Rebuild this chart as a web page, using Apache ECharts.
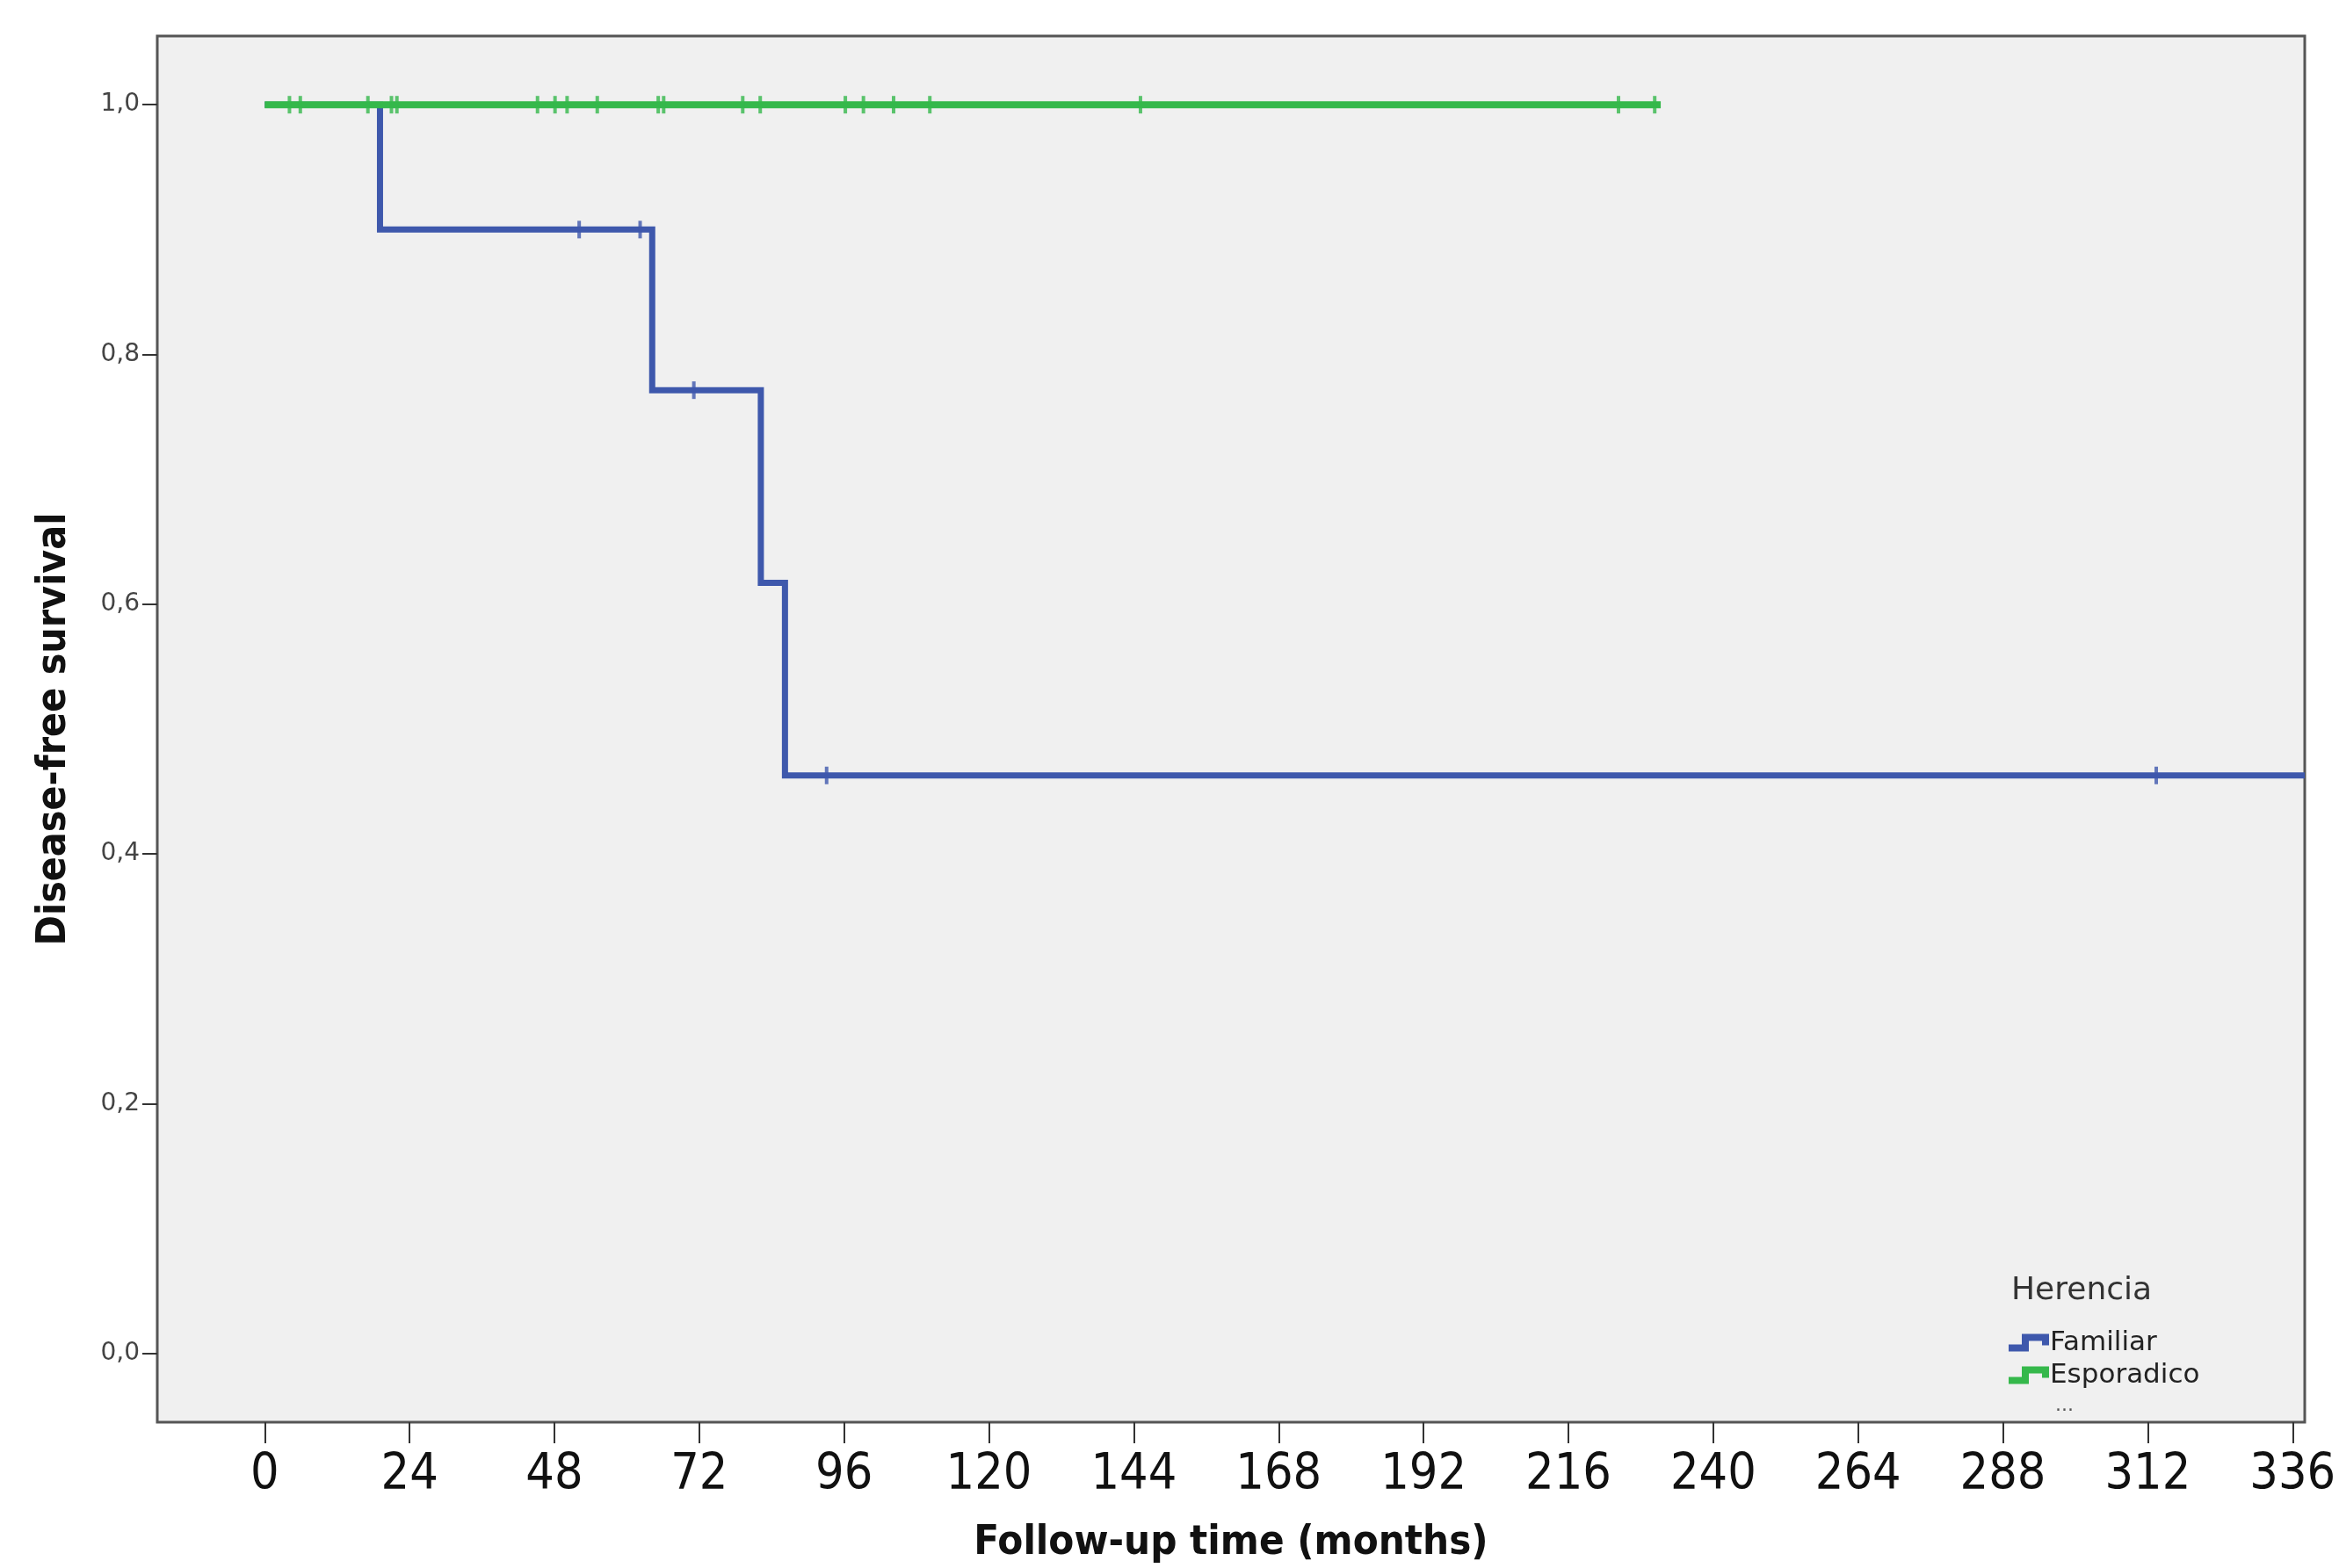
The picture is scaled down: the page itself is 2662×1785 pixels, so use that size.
<!DOCTYPE html>
<html>
<head>
<meta charset="utf-8">
<script src="https://cdn.jsdelivr.net/npm/echarts@6/dist/echarts.min.js"></script>
<style>
html,body{margin:0;padding:0;background:#fff;}
#chart{width:2662px;height:1785px;}
</style>
</head>
<body>
<div id="chart"></div>
<script>
// ---- data ----
const xTicks = [0, 24, 48, 72, 96, 120, 144, 168, 192, 216, 240, 264, 288, 312, 336];
const yTicks = [0, 0.2, 0.4, 0.6, 0.8, 1.0];
const yTickLabels = ['0,0', '0,2', '0,4', '0,6', '0,8', '1,0'];

// Familiar (Kaplan-Meier steps)
const familiarTimes = [0, 19.1, 64.2, 82.2, 86.2, 338];
const familiarSurv = [1, 0.9, 0.7714, 0.6171, 0.4629, 0.4629];
const familiarCensTimes = [52.1, 62.2, 71.1, 93.1, 313.4];
const familiarCensSurv = [0.9, 0.9, 0.7714, 0.4629, 0.4629];

// Esporadico
const esporadicoTimes = [0, 231.3];
const esporadicoSurv = [1, 1];
const esporadicoCensTimes = [4.1, 5.9, 17.1, 21.0, 21.9, 45.2, 48.1, 50.1, 55.1, 65.2, 66.1, 79.2, 82.1, 96.2, 99.2, 104.2, 110.2, 145.1, 224.3, 230.3];
const esporadicoCensSurv = esporadicoCensTimes.map(() => 1);

const seriesNames = ['Familiar', 'Esporadico'];
const legendTitle = 'Herencia';

// ---- chart ----
const BLUE = '#3e58ac';
const GREEN = '#35b84b';
const zip = (a, b) => a.map((v, i) => [v, b[i]]);
const stepIcon = 'path://M0,12 L15,12 L15,0 L46,0 L46,13 L38,13 L38,8 L23,8 L23,20 L0,20 Z';

const chart = echarts.init(document.getElementById('chart'));
chart.setOption({
  animation: false,
  backgroundColor: '#ffffff',
  grid: {
    left: 179, right: 39, top: 41, bottom: 162,
    show: true, backgroundColor: '#f0f0f0',
    borderColor: '#555555', borderWidth: 3
  },
  title: [
    { text: legendTitle, left: 2284, top: 1447,
      textStyle: { fontFamily: 'DejaVu Sans', fontSize: 36, fontWeight: 'normal', color: '#333' } },
    { text: '...', left: 2334, top: 1584,
      textStyle: { fontFamily: 'DejaVu Sans', fontSize: 22, fontWeight: 'normal', color: '#555' } }
  ],
  legend: {
    orient: 'vertical', left: 2281, top: 1508,
    itemWidth: 46, itemHeight: 20, itemGap: 6,
    data: [
      { name: seriesNames[0], icon: stepIcon },
      { name: seriesNames[1], icon: stepIcon }
    ],
    textStyle: { fontFamily: 'DejaVu Sans', fontSize: 31, color: '#222', padding: [0, 0, 0, -4] }
  },
  xAxis: {
    type: 'value', min: -17.8, max: 338,
    name: 'Follow-up time (months)', nameLocation: 'middle', nameGap: 114,
    nameTextStyle: { fontFamily: 'DejaVu Sans Condensed, DejaVu Sans', fontWeight: 'bold', fontSize: 47, color: '#111' },
    axisLine: { show: false, onZero: false },
    splitLine: { show: false },
    axisTick: { show: true, length: 24, lineStyle: { color: '#333', width: 2 }, customValues: xTicks },
    axisLabel: { margin: 33, fontFamily: 'DejaVu Sans Condensed, DejaVu Sans', fontSize: 57, color: '#111', customValues: xTicks }
  },
  yAxis: {
    type: 'value', min: -0.055, max: 1.055,
    name: 'Disease-free survival', nameLocation: 'middle', nameGap: 94, nameRotate: 90,
    nameTextStyle: { fontFamily: 'DejaVu Sans Condensed, DejaVu Sans', fontWeight: 'bold', fontSize: 46, color: '#111' },
    axisLine: { show: false, onZero: false },
    splitLine: { show: false },
    axisTick: { show: true, length: 17, lineStyle: { color: '#333', width: 2 }, customValues: yTicks },
    axisLabel: {
      margin: 20, fontFamily: 'DejaVu Sans', fontSize: 28, color: '#444', customValues: yTicks,
      formatter: v => { const i = yTicks.findIndex(t => Math.abs(t - v) < 1e-6); return i >= 0 ? yTickLabels[i] : ''; }
    }
  },
  series: [
    { name: seriesNames[0], type: 'line', step: 'end', z: 2, color: BLUE,
      data: zip(familiarTimes, familiarSurv), showSymbol: false, symbol: 'none',
      lineStyle: { color: BLUE, width: 7, join: 'miter', cap: 'butt' }, clip: true },
    { name: 'Familiar censored', type: 'scatter', z: 3, symbol: 'rect', symbolSize: [4, 20],
      itemStyle: { color: BLUE }, data: zip(familiarCensTimes, familiarCensSurv) },
    { name: seriesNames[1], type: 'line', step: 'end', z: 4, color: GREEN,
      data: zip(esporadicoTimes, esporadicoSurv), showSymbol: false, symbol: 'none',
      lineStyle: { color: GREEN, width: 8, join: 'miter', cap: 'butt' } },
    { name: 'Esporadico censored', type: 'scatter', z: 5, symbol: 'rect', symbolSize: [4, 20],
      itemStyle: { color: GREEN }, data: zip(esporadicoCensTimes, esporadicoCensSurv) }
  ]
});
</script>
</body>
</html>
